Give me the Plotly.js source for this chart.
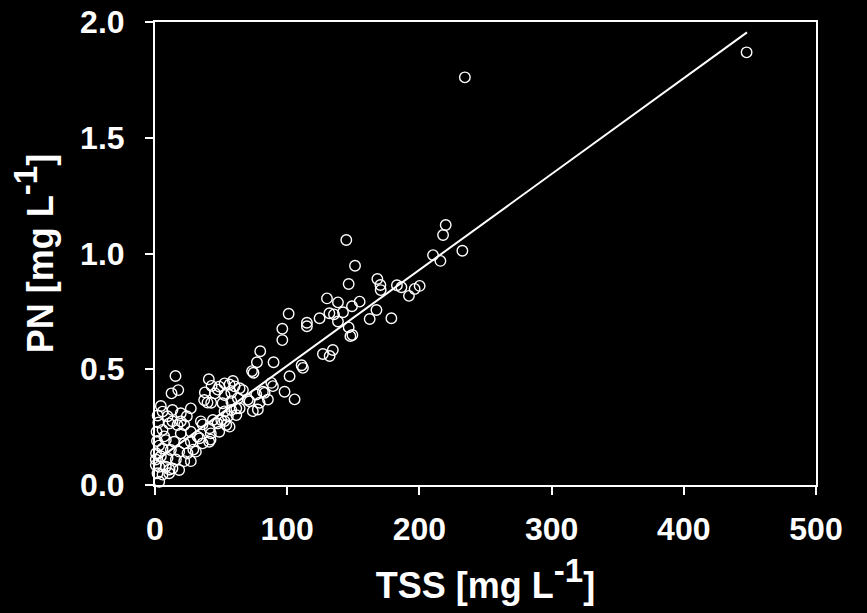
<!DOCTYPE html>
<html>
<head>
<meta charset="utf-8">
<script src="https://cdn.plot.ly/plotly-3.0.1.min.js"></script>
<style>html,body{margin:0;padding:0;background:#000;}#chart{width:867px;height:613px;}</style>
</head>
<body>
<div id="chart"></div>
<script>
// TSS [mg L-1] vs PN [mg L-1]
const tss = [
447.5,234.4,219.9,217.9,232.5,210.3,215.9,200.2,196.4,192.1,186.4,144.7,151.3,146.5,168.2,170.5,170.7,183.0,
130.1,138.4,154.8,149.0,131.9,135.4,142.2,124.5,138.4,167.5,162.4,178.8,146.5,147.8,149.3,134.5,127.0,132.1,
101.1,114.9,114.9,96.3,96.3,79.6,77.1,73.4,74.5,89.7,110.9,111.9,101.8,15.5,40.7,58.9,88.0,89.2,98.0,105.6,
81.6,82.9,85.4,79.1,71.5,74.0,77.8,66.5,56.4,52.6,57.7,57.7,62.7,52.6,64.0,57.7,61.5,55.1,52.6,53.9,
17.6,12.5,42.8,48.6,37.7,45.3,37.2,39.7,51.1,4.4,27.1,13.2,19.5,5.7,9.5,24.1,34.7,13.2,19.5,
10.7,17.0,22.1,36.0,47.3,5.7,19.5,27.1,32.2,42.2,48.6,8.2,14.5,22.1,27.1,36.0,41.0,
5.7,12.0,18.3,24.6,30.9,4.4,9.5,15.8,22.1,27.1,3.2,8.2,13.2,18.3,1.9,5.7,10.7,3.2,0.6,0.6,0.8,
41.3,56.4,43.8,42.0,33.7,29.0,11.0,76.6,61.5,52.6,50.1,47.5,60.2,64.0,42.5,70.2,
1.5,2.5,1.2,2.0,7.0,3.0
];
const pn = [
1.869,1.761,1.123,1.080,1.012,0.993,0.968,0.860,0.847,0.817,0.854,1.058,0.947,0.868,0.890,0.864,0.842,0.863,
0.806,0.789,0.792,0.772,0.742,0.737,0.746,0.720,0.706,0.756,0.717,0.720,0.681,0.643,0.648,0.583,0.566,0.557,
0.740,0.701,0.686,0.675,0.626,0.578,0.530,0.492,0.485,0.530,0.517,0.506,0.470,0.471,0.457,0.449,0.441,0.427,0.403,0.370,
0.403,0.398,0.369,0.355,0.362,0.319,0.326,0.410,0.434,0.439,0.398,0.362,0.375,0.389,0.331,0.324,0.302,0.297,0.276,0.259,
0.410,0.396,0.428,0.425,0.400,0.396,0.367,0.356,0.353,0.341,0.331,0.324,0.310,0.317,0.297,0.297,0.275,0.275,0.275,
0.266,0.259,0.259,0.262,0.266,0.238,0.223,0.230,0.209,0.223,0.230,0.194,0.187,0.180,0.187,0.180,0.187,
0.158,0.151,0.144,0.137,0.144,0.124,0.117,0.110,0.103,0.103,0.079,0.079,0.072,0.065,0.051,0.045,0.051,0.014,0.110,0.086,0.137,
0.245,0.252,0.281,0.196,0.202,0.153,0.067,0.391,0.331,0.318,0.281,0.412,0.426,0.418,0.355,0.369,
0.190,0.270,0.230,0.300,0.210,0.170
];
// regression line
const fitTSS = [0.6, 447.8];
const fitPN = [0.104, 1.955];

const xTicks = [0, 100, 200, 300, 400, 500];
const yTicks = [0.0, 0.5, 1.0, 1.5, 2.0];

const fam = 'Arial, "Liberation Sans", sans-serif';
const tickFont = {family: fam, color: '#ffffff', size: 32, weight: 'bold'};
const titleFont = {family: fam, color: '#ffffff', size: 36, weight: 'bold'};
const sup = '<sup><span style="font-size:33px">-1</span></sup>';

const traces = [
  {x: fitTSS, y: fitPN, type: 'scatter', mode: 'lines',
   line: {color: '#ffffff', width: 2}, hoverinfo: 'skip', cliponaxis: false},
  {x: tss, y: pn, type: 'scatter', mode: 'markers', cliponaxis: false,
   marker: {symbol: 'circle-open', size: 10.5, color: '#ffffff', line: {width: 1.4, color: '#ffffff'}}}
];

const layout = {
  width: 867, height: 613,
  paper_bgcolor: '#000000', plot_bgcolor: '#000000',
  showlegend: false,
  margin: {l: 155, r: 51, t: 22, b: 128, pad: 0},
  font: tickFont,
  xaxis: {
    range: [0, 500], tickvals: xTicks, ticktext: xTicks.map(String),
    showgrid: false, zeroline: false, showline: true, linecolor: '#ffffff', linewidth: 2,
    mirror: true, ticks: 'outside', ticklen: 8, tickwidth: 2, tickcolor: '#ffffff',
    tickfont: tickFont, ticklabelstandoff: 7,
    title: {text: 'TSS [mg L' + sup + ']', font: titleFont, standoff: 26},
    automargin: false
  },
  yaxis: {
    range: [0, 2], tickvals: yTicks, ticktext: yTicks.map(v => v.toFixed(1)),
    showgrid: false, zeroline: false, showline: true, linecolor: '#ffffff', linewidth: 2,
    mirror: true, ticks: 'outside', ticklen: 8, tickwidth: 2, tickcolor: '#ffffff',
    tickfont: tickFont, ticklabelstandoff: 14,
    title: {text: 'PN [mg L' + sup + ']', font: titleFont, standoff: 16},
    automargin: false
  }
};

Plotly.newPlot('chart', traces, layout, {staticPlot: true, displayModeBar: false});
</script>
</body>
</html>
